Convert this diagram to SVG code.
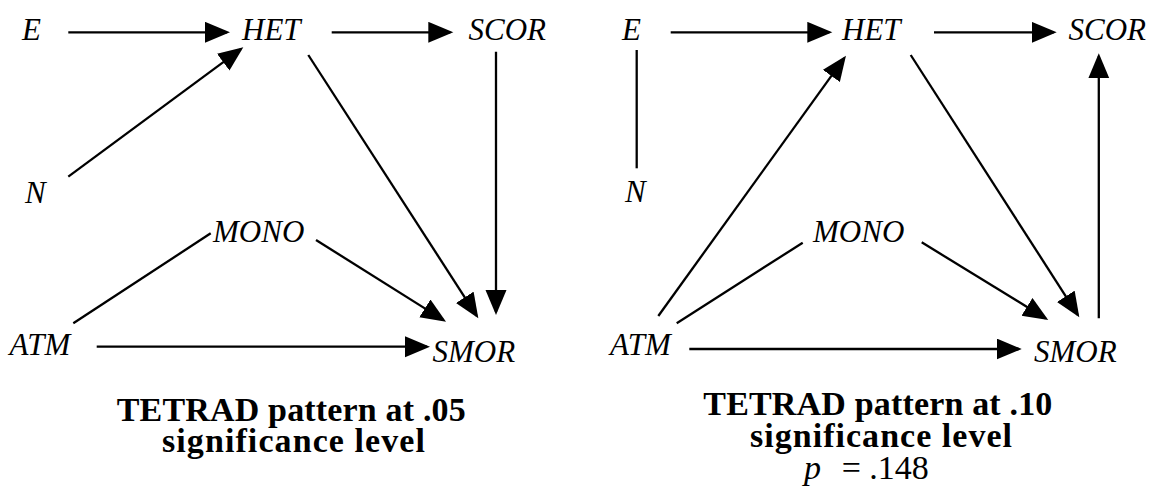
<svg xmlns="http://www.w3.org/2000/svg" width="1151" height="489" viewBox="0 0 1151 489">
<style>
.lbl{font-family:'Liberation Serif','Times New Roman',serif;font-style:italic;font-size:31px;fill:#000}
.cap{font-family:'Liberation Serif','Times New Roman',serif;font-weight:bold;font-size:34px;fill:#000}
.pv{font-family:'Liberation Serif','Times New Roman',serif;font-size:34px;fill:#000}
.e{stroke:#000;stroke-width:2.3;fill:none}
.a{marker-end:url(#ah)}
</style>
<defs>
<marker id="ah" markerUnits="userSpaceOnUse" markerWidth="26" markerHeight="22" refX="22" refY="10.5" orient="auto" viewBox="0 0 26 22">
<path d="M0,0 L25,10.5 L0,21 z" fill="#000"/>
</marker>
</defs>
<rect width="1151" height="489" fill="#fff"/>
<g id="connectors">
<line class="e a" x1="68.3" y1="32.3" x2="227" y2="32.3"/>
<line class="e a" x1="331.7" y1="32.3" x2="450.3" y2="32.3"/>
<line class="e a" x1="68.3" y1="176.7" x2="240.9" y2="49.1"/>
<line class="e a" x1="308.3" y1="55" x2="476.7" y2="315.8"/>
<line class="e a" x1="496" y1="51.7" x2="496" y2="312"/>
<line class="e" x1="73.3" y1="323.3" x2="210.7" y2="233.3"/>
<line class="e a" x1="316" y1="240" x2="443.5" y2="320.1"/>
<line class="e a" x1="96.7" y1="346.7" x2="427" y2="346.7"/>

<line class="e a" x1="670.7" y1="32.3" x2="829.3" y2="32.3"/>
<line class="e a" x1="934" y1="32.3" x2="1053.7" y2="32.3"/>
<line class="e" x1="636.7" y1="50" x2="636.7" y2="168.3"/>
<line class="e a" x1="658.3" y1="316" x2="844.2" y2="58.1"/>
<line class="e a" x1="910.7" y1="55" x2="1077.7" y2="314.8"/>
<line class="e a" x1="1098.8" y1="318.3" x2="1098.8" y2="56.3"/>
<line class="e" x1="676.7" y1="323.3" x2="802.7" y2="242.7"/>
<line class="e a" x1="921.7" y1="242.3" x2="1045.7" y2="318.4"/>
<line class="e a" x1="689.3" y1="349" x2="1018.7" y2="349"/>
</g>
<g id="L_E"><text class="lbl" x="22" y="39.5">E</text></g>
<g id="L_HET"><text class="lbl" x="242" y="39.5">HET</text></g>
<g id="L_SCOR"><text class="lbl" x="468.5" y="39.5">SCOR</text></g>
<g id="L_N"><text class="lbl" x="25" y="202.5">N</text></g>
<g id="L_MONO"><text class="lbl" x="213" y="241.7">MONO</text></g>
<g id="L_ATM"><text class="lbl" x="9.5" y="355">ATM</text></g>
<g id="L_SMOR"><text class="lbl" x="432.5" y="361.7">SMOR</text></g>
<g id="L_caption">
<text class="cap" x="116.7" y="420.5" textLength="349" lengthAdjust="spacing">TETRAD pattern at .05</text>
<text class="cap" x="162" y="452" textLength="263" lengthAdjust="spacing">significance level</text>
</g>
<g id="R_E"><text class="lbl" x="622" y="39.5">E</text></g>
<g id="R_HET"><text class="lbl" x="842" y="39.5">HET</text></g>
<g id="R_SCOR"><text class="lbl" x="1068.5" y="39.5">SCOR</text></g>
<g id="R_N"><text class="lbl" x="625" y="202">N</text></g>
<g id="R_MONO"><text class="lbl" x="813" y="241.7">MONO</text></g>
<g id="R_ATM"><text class="lbl" x="610" y="355">ATM</text></g>
<g id="R_SMOR"><text class="lbl" x="1034" y="361.7">SMOR</text></g>
<g id="R_caption">
<text class="cap" x="703.3" y="415" textLength="349" lengthAdjust="spacing">TETRAD pattern at .10</text>
<text class="cap" x="750" y="446.5" textLength="262" lengthAdjust="spacing">significance level</text>
<text class="pv" x="804" y="479"><tspan font-style="italic">p</tspan><tspan x="841.7">= .148</tspan></text>
</g>
</svg>
